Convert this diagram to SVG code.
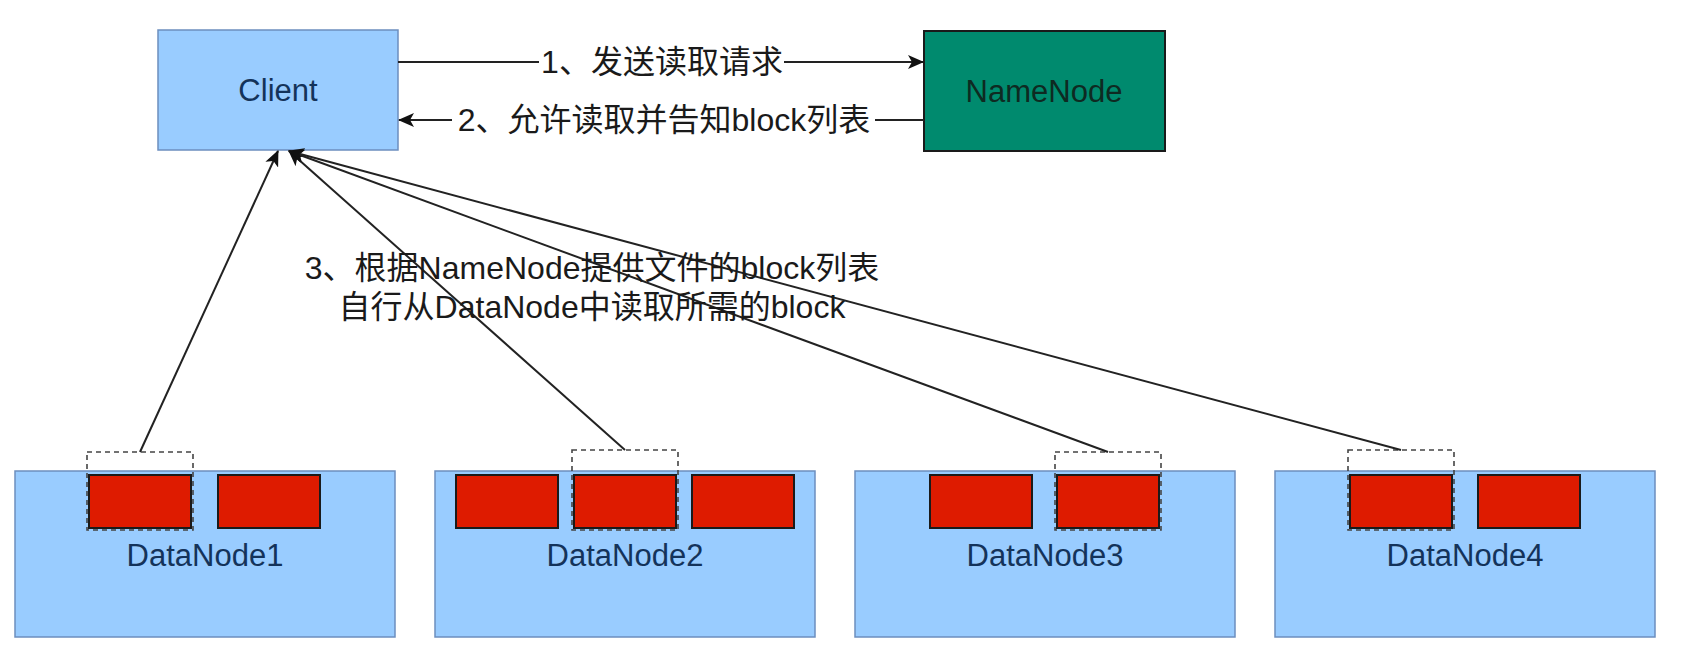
<svg xmlns="http://www.w3.org/2000/svg" width="1685" height="662" viewBox="0 0 1685 662">
  <defs>
    <style>
      .lbl { font-family: "Liberation Sans", "Noto Sans CJK SC", sans-serif; }
      .node-blue { fill: #99CCFF; stroke: #6C8EBF; stroke-width: 1.5; }
      .node-text { font-size: 31px; fill: #14335a; text-anchor: middle; }
      .block { fill: #DE1B00; stroke: #1a1a1a; stroke-width: 2; }
      .sel { fill: none; stroke: #444444; stroke-width: 1.6; stroke-dasharray: 5 4; }
      .edge { fill: none; stroke: #222222; stroke-width: 2; }
      .elabel { font-size: 32px; fill: #1a1a1a; text-anchor: middle; }
    </style>
    <marker id="arrow" markerUnits="userSpaceOnUse" viewBox="0 0 16 14" refX="15" refY="7" markerWidth="16" markerHeight="14" orient="auto">
      <path d="M0,0 L16,7 L0,14 L4,7 Z" fill="#111111"/>
    </marker>
  </defs>
  <rect x="0" y="0" width="1685" height="662" fill="#ffffff"/>

  <g id="client">
    <rect class="node-blue" x="158" y="30" width="240" height="120"/>
    <text class="lbl node-text" x="278" y="101">Client</text>
  </g>

  <g id="namenode">
    <rect x="924" y="31" width="241" height="120" fill="#008A6E" stroke="#1a1a1a" stroke-width="2"/>
    <text class="lbl node-text" x="1044" y="102" fill="#0e2a22" style="fill:#0e2a22">NameNode</text>
  </g>

  <g id="datanode1">
    <rect class="node-blue" x="15" y="471" width="380" height="166"/>
    <rect class="block" x="89" y="475" width="102" height="53"/>
    <rect class="block" x="218" y="475" width="102" height="53"/>
    <rect class="sel" x="87" y="452" width="106" height="78"/>
    <text class="lbl node-text" x="205" y="566">DataNode1</text>
  </g>

  <g id="datanode2">
    <rect class="node-blue" x="435" y="471" width="380" height="166"/>
    <rect class="block" x="456" y="475" width="102" height="53"/>
    <rect class="block" x="574" y="475" width="102" height="53"/>
    <rect class="block" x="692" y="475" width="102" height="53"/>
    <rect class="sel" x="572" y="450" width="106" height="80"/>
    <text class="lbl node-text" x="625" y="566">DataNode2</text>
  </g>

  <g id="datanode3">
    <rect class="node-blue" x="855" y="471" width="380" height="166"/>
    <rect class="block" x="930" y="475" width="102" height="53"/>
    <rect class="block" x="1057" y="475" width="102" height="53"/>
    <rect class="sel" x="1055" y="452" width="106" height="78"/>
    <text class="lbl node-text" x="1045" y="566">DataNode3</text>
  </g>

  <g id="datanode4">
    <rect class="node-blue" x="1275" y="471" width="380" height="166"/>
    <rect class="block" x="1350" y="475" width="102" height="53"/>
    <rect class="block" x="1478" y="475" width="102" height="53"/>
    <rect class="sel" x="1348" y="450" width="106" height="80"/>
    <text class="lbl node-text" x="1465" y="566">DataNode4</text>
  </g>

  <g id="connectors">
    <line class="edge" x1="398" y1="62" x2="923" y2="62" marker-end="url(#arrow)"/>
    <line class="edge" x1="924" y1="120" x2="399" y2="120" marker-end="url(#arrow)"/>
    <line class="edge" x1="140" y1="452" x2="278" y2="151" marker-end="url(#arrow)"/>
    <line class="edge" x1="625" y1="450" x2="289" y2="151" marker-end="url(#arrow)"/>
    <line class="edge" x1="1108" y1="452" x2="289" y2="151" marker-end="url(#arrow)"/>
    <line class="edge" x1="1401" y1="450" x2="289" y2="151" marker-end="url(#arrow)"/>

    <g id="label1">
      <rect x="539" y="46" width="245" height="32" fill="#ffffff"/>
      <text class="lbl elabel" x="662" y="73">1、发送读取请求</text>
    </g>
    <g id="label2">
      <rect x="452" y="104" width="423" height="32" fill="#ffffff"/>
      <text class="lbl elabel" x="664" y="131">2、允许读取并告知block列表</text>
    </g>
    <g id="label3">
      <text class="lbl elabel" x="592" y="279">3、根据NameNode提供文件的block列表</text>
      <text class="lbl elabel" x="592" y="318">自行从DataNode中读取所需的block</text>
    </g>
  </g>
</svg>
